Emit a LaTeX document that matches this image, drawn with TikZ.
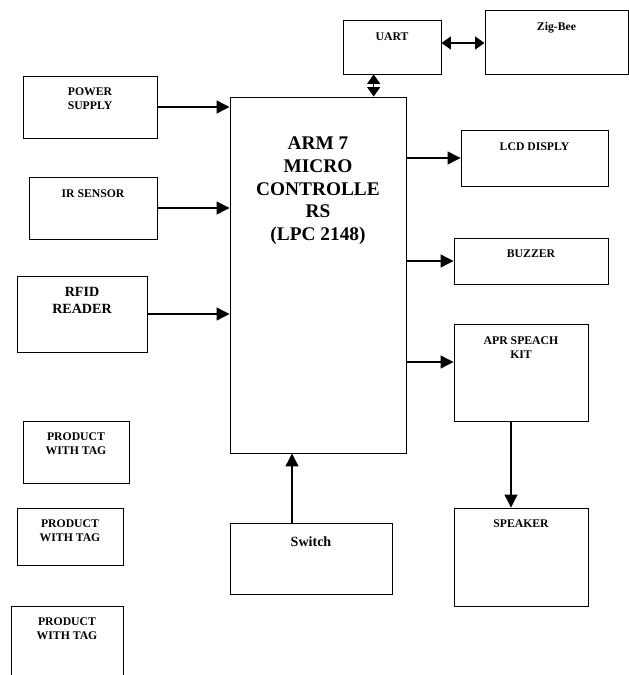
\documentclass[tikz,border=0pt]{standalone}
\usepackage{fontspec}
\setmainfont{Liberation Serif}
\usepackage{tikz}
\usetikzlibrary{arrows.meta,positioning}

\begin{document}
\begin{tikzpicture}[
  x=0.03cm,y=-0.03cm,
  blk/.style={draw=black,line width=0.8pt,inner sep=0pt},
  lbl/.style={font=\fontsize{10}{12}\selectfont\bfseries,align=center,inner sep=0pt},
  biglbl/.style={font=\fontsize{12}{14}\selectfont\bfseries,align=center,inner sep=0pt},
  arr/.style={line width=1.1pt,-{Triangle[length=11pt,width=11pt]}},
  darr/.style={line width=1.1pt,{Triangle[length=8pt,width=11pt]}-{Triangle[length=8pt,width=11pt]}},
]
\useasboundingbox (0,0) rectangle (629,675);

%% Top row: UART and Zig-Bee
\node[blk,minimum width=2.94cm,minimum height=1.62cm] (uart) at (392,47) {};
\node[lbl,below=11pt of uart.north] (uartT) {UART};
\node[blk,minimum width=4.29cm,minimum height=1.92cm] (zig) at (556.5,42) {};
\node[lbl,below=11pt of zig.north] (zigT) {Zig-Bee};

%% Controller
\node[blk,minimum width=5.28cm,minimum height=10.68cm] (arm) at (318,275) {};
\node[font=\fontsize{16.5}{19.5}\selectfont\bfseries,align=center,inner sep=0pt,
      below=34pt of arm.north] (armT)
  {ARM 7\\MICRO\\CONTROLLE\\RS\\(LPC 2148)};

%% Inputs (left)
\node[blk,minimum width=4.02cm,minimum height=1.86cm] (pwr) at (90,107) {};
\node[lbl,below=10pt of pwr.north] (pwrT) {POWER\\SUPPLY};
\node[blk,minimum width=3.84cm,minimum height=1.86cm] (ir) at (93,208) {};
\node[lbl,below=11pt of ir.north] (irT) {IR SENSOR};
\node[blk,minimum width=3.90cm,minimum height=2.28cm] (rfid) at (82,314) {};
\node[biglbl,below=10pt of rfid.north] (rfidT) {RFID\\READER};

%% Tagged products
\node[blk,minimum width=3.18cm,minimum height=1.86cm] (prodA) at (76,452) {};
\node[lbl,below=10pt of prodA.north] (prodAT) {PRODUCT\\WITH TAG};
\node[blk,minimum width=3.18cm,minimum height=1.71cm] (prodB) at (70,536.5) {};
\node[lbl,below=10pt of prodB.north] (prodBT) {PRODUCT\\WITH TAG};
\node[blk,minimum width=3.36cm,minimum height=2.82cm] (prodC) at (67,653) {};
\node[lbl,below=10pt of prodC.north] (prodCT) {PRODUCT\\WITH TAG};

%% Outputs (right)
\node[blk,minimum width=4.41cm,minimum height=1.68cm] (lcd) at (534.5,158) {};
\node[lbl,below=11pt of lcd.north] (lcdT) {LCD DISPLY};
\node[blk,minimum width=4.62cm,minimum height=1.38cm] (buz) at (531,261) {};
\node[lbl,below=10pt of buz.north] (buzT) {BUZZER};
\node[blk,minimum width=4.02cm,minimum height=2.91cm] (apr) at (521,372.5) {};
\node[lbl,below=11pt of apr.north] (aprT) {APR SPEACH\\KIT};
\node[blk,minimum width=4.02cm,minimum height=2.94cm] (spk) at (521,557) {};
\node[lbl,below=10pt of spk.north] (spkT) {SPEAKER};

%% Switch
\node[blk,minimum width=4.86cm,minimum height=2.13cm] (sw) at (311,558.5) {};
\node[font=\fontsize{12}{14}\selectfont\bfseries,inner sep=0pt,
      below=12pt of sw.north] (swT) {Switch};

%% Connector end points off the box centres
\coordinate (aprIn)  at ([yshift=0.315cm]apr.west);
\coordinate (aprOut) at ([xshift=-0.3cm]apr.south);
\coordinate (swOut)  at ([xshift=-0.57cm]sw.north);
\coordinate (uartS)  at ([xshift=-0.55cm]uart.south);
\coordinate (uartE)  at ([yshift=0.12cm]uart.east);

%% Connectors
\draw[arr] (pwr.east) -- (pwr.east -| arm.west);
\draw[arr] (ir.east) -- (ir.east -| arm.west);
\draw[arr] (rfid.east) -- (rfid.east -| arm.west);
\draw[arr] (arm.east |- lcd.west) -- (lcd.west);
\draw[arr] (arm.east |- buz.west) -- (buz.west);
\draw[arr] (arm.east |- aprIn) -- (aprIn);
\draw[arr] (aprOut) -- (aprOut |- spk.north);
\draw[arr] (swOut) -- (swOut |- arm.south);
\draw[darr] (uartS) -- (uartS |- arm.north);
\draw[darr] (uartE) -- (uartE -| zig.west);

\end{tikzpicture}
\end{document}
